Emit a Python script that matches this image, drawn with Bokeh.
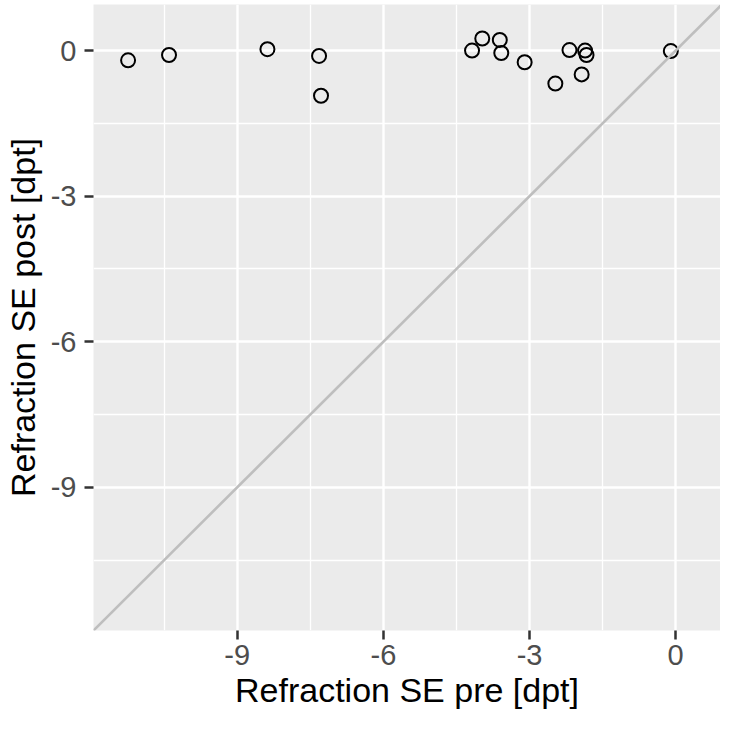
from bokeh.plotting import figure
from bokeh.models import FixedTicker, Slope, Range1d
from bokeh.embed import file_html
from bokeh.resources import INLINE

# Data: refraction spherical equivalent before and after (dpt)
se_pre = [-11.24, -10.40, -8.38, -7.32, -7.28, -4.18, -3.97, -3.61, -3.58,
          -3.10, -2.47, -2.18, -1.86, -1.83, -1.93, -0.10]
se_post = [-0.20, -0.09, 0.03, -0.11, -0.93, 0.00, 0.25, 0.22, -0.05,
           -0.24, -0.68, 0.01, 0.00, -0.09, -0.49, -0.01]

major_ticks = [-9, -6, -3, 0]
minor_ticks = [-10.5, -7.5, -4.5, -1.5]
tick_labels = ["-9", "-6", "-3", "0"]

x_label = "Refraction SE pre [dpt]"
y_label = "Refraction SE post [dpt]"

p = figure(frame_width=627, frame_height=626,
           x_range=Range1d(-11.95, 0.92), y_range=Range1d(-11.95, 0.95),
           output_backend="svg", toolbar_location=None,
           min_border_left=0, min_border_right=0, min_border_top=4, min_border_bottom=0)

p.background_fill_color = "#EBEBEB"
p.border_fill_color = "white"
p.outline_line_color = None

for ax, lab in ((p.xaxis, x_label), (p.yaxis, y_label)):
    ax.ticker = FixedTicker(ticks=major_ticks, minor_ticks=minor_ticks)
    ax.major_label_overrides = {t: s for t, s in zip(major_ticks, tick_labels)}
    ax.axis_label = lab
    ax.axis_line_color = None
    ax.major_tick_in = 0
    ax.major_tick_out = 9
    ax.major_tick_line_color = "#333333"
    ax.major_tick_line_width = 2.5
    ax.minor_tick_line_color = None
    ax.major_label_text_font = "Liberation Sans"
    ax.major_label_text_font_size = "29px"
    ax.major_label_text_color = "#4D4D4D"
    ax.axis_label_text_font = "Liberation Sans"
    ax.axis_label_text_font_size = "34px"
    ax.axis_label_text_font_style = "normal"
    ax.axis_label_text_color = "black"

p.xaxis.major_label_standoff = 5
p.xaxis.axis_label_standoff = 3
p.yaxis.major_label_standoff = 8
p.yaxis.axis_label_standoff = 6

for g in (p.xgrid, p.ygrid):
    g.grid_line_color = "white"
    g.grid_line_width = 2.4
    g.minor_grid_line_color = "white"
    g.minor_grid_line_width = 1.3

p.scatter(se_pre, se_post, size=14, fill_color=None, line_color="black", line_width=2)

p.add_layout(Slope(gradient=1, y_intercept=0, line_color="#BEBEBE", line_width=2.6))

open("out.html", "w").write(file_html(p, INLINE))
